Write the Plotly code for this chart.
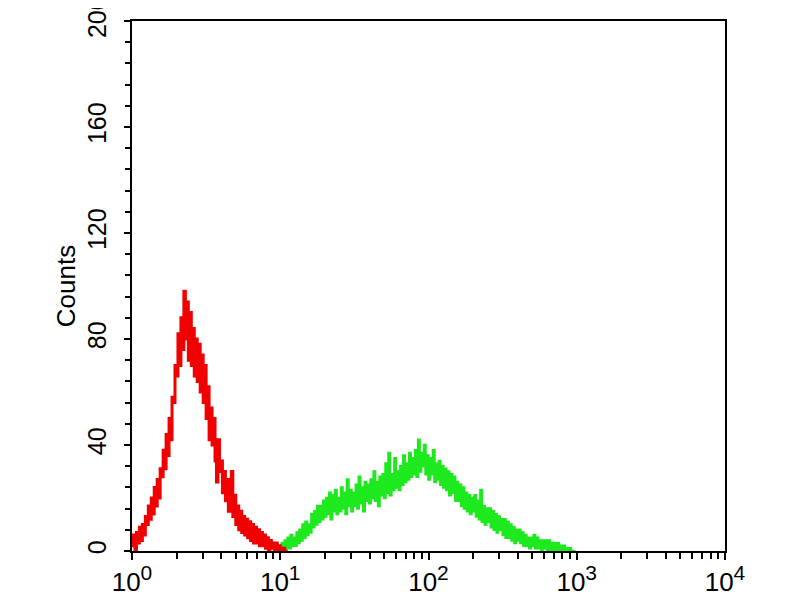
import plotly.graph_objects as go

# Histogram channels: counts per log-channel (step of 0.01 decade)
decade_step = 0.01
red_start_decade = 0.0
green_start_decade = 1.0

red_counts = [
    2, 6, 0, 7, 3, 9, 4, 10, 6, 13,
    10, 17, 12, 20, 14, 24, 17, 27, 20, 31,
    28, 38, 31, 44, 36, 50, 42, 58, 56, 70,
    66, 82, 70, 88, 76, 98, 80, 94, 72, 90,
    70, 84, 66, 80, 64, 78, 60, 74, 56, 70,
    50, 62, 42, 54, 40, 50, 34, 26, 42, 30,
    34, 22, 30, 19, 27, 15, 24, 30, 13, 21,
    10, 17, 8, 15, 7, 13, 6, 12, 5, 11,
    4, 10, 3, 9, 3, 8, 2, 7, 2, 6,
    1, 5, 0, 4, 1, 3, 0, 3, 0, 2,
    1, 0, 1, 0, 0, 0,
]

green_counts = [
    0, 3, 0, 4, 1, 5, 1, 6, 2, 5,
    2, 7, 3, 8, 4, 10, 5, 11, 6, 10,
    7, 14, 9, 15, 10, 17, 11, 17, 12, 19,
    13, 20, 14, 22, 12, 21, 15, 23, 14, 20,
    15, 24, 16, 22, 14, 27, 17, 23, 15, 22,
    17, 25, 16, 28, 18, 24, 15, 26, 19, 25,
    18, 27, 20, 30, 19, 26, 17, 28, 21, 29,
    20, 33, 22, 37, 21, 29, 23, 35, 24, 30,
    23, 32, 25, 36, 26, 33, 27, 37, 28, 35,
    29, 38, 28, 42, 30, 37, 32, 40, 29, 36,
    27, 35, 29, 38, 26, 33, 27, 34, 25, 32,
    24, 31, 23, 30, 21, 29, 22, 28, 19, 26,
    19, 25, 17, 24, 16, 22, 15, 21, 14, 20,
    15, 21, 13, 19, 12, 23, 11, 17, 10, 16,
    11, 16, 9, 15, 8, 14, 7, 13, 8, 12,
    6, 12, 5, 11, 5, 10, 4, 9, 3, 8,
    4, 8, 3, 7, 2, 6, 2, 5, 1, 5,
    2, 6, 1, 5, 1, 4, 0, 4, 1, 4,
    0, 4, 0, 3, 0, 3, 0, 3, 0, 2,
    0, 2, 0, 1, 0, 1, 0, 0, 0, 0,
]

x_tick_vals = [1, 10, 100, 1000, 10000]
x_tick_exponents = ["0", "1", "2", "3", "4"]
y_tick_vals = [0, 40, 80, 120, 160, 200]
y_tick_text = ["0", "40", "80", "120", "160", "200"]

x_tick_text = ["10<sup><span style='font-size:21px'>%s</span></sup>" % e
               for e in x_tick_exponents]


def channel_x(start, n):
    return [10 ** (start + i * decade_step) for i in range(n)]


red_x = channel_x(red_start_decade, len(red_counts))
green_x = channel_x(green_start_decade, len(green_counts))

minor_x = [m * 10 ** d for d in range(4) for m in range(2, 10)]

fig = go.Figure()
fig.add_trace(go.Scatter(x=green_x, y=green_counts, mode="lines",
                         line=dict(color="#1ee81e", width=2.5, shape="hv"),
                         showlegend=False))
fig.add_trace(go.Scatter(x=red_x, y=red_counts, mode="lines",
                         line=dict(color="#f00000", width=3, shape="hv"),
                         showlegend=False))

font_family = "Liberation Sans, Arial, sans-serif"
narrow_family = "Liberation Sans Narrow, Liberation Sans, Arial, sans-serif"

# page body has an 8px margin, so the figure is sized/offset to compensate
fig.update_layout(
    width=792, height=592,
    margin=dict(l=124, r=75, t=13, b=49),
    paper_bgcolor="white", plot_bgcolor="white",
    font=dict(family=font_family, color="black"),
    xaxis=dict(
        type="log", range=[0, 4], automargin=False,
        tickmode="array", tickvals=x_tick_vals, ticktext=x_tick_text,
        ticks="outside", ticklen=7, tickwidth=2, tickcolor="black",
        showline=True, linecolor="black", linewidth=2, mirror=True,
        showgrid=False, zeroline=False, ticklabeloverflow="allow",
        tickfont=dict(size=26, family=narrow_family, color="black"),
        minor=dict(tickmode="array", tickvals=minor_x, ticks="outside",
                   ticklen=6, tickwidth=2, tickcolor="black", showgrid=False),
    ),
    yaxis=dict(
        range=[0, 200], automargin=False,
        tickmode="array", tickvals=y_tick_vals, ticktext=y_tick_text,
        ticks="outside", ticklen=6, tickwidth=2, tickcolor="black",
        showline=True, linecolor="black", linewidth=2, mirror=True,
        showgrid=False, zeroline=False, ticklabeloverflow="allow",
        tickangle=-90, ticklabelstandoff=8,
        tickfont=dict(size=25, family=font_family, color="black"),
        minor=dict(dtick=8, ticks="outside", ticklen=5, tickwidth=2,
                   tickcolor="black", showgrid=False),
        title=dict(text="Counts", font=dict(size=26, family=font_family, color="black"),
                   standoff=0),
    ),
)

fig.write_html("out.html")
